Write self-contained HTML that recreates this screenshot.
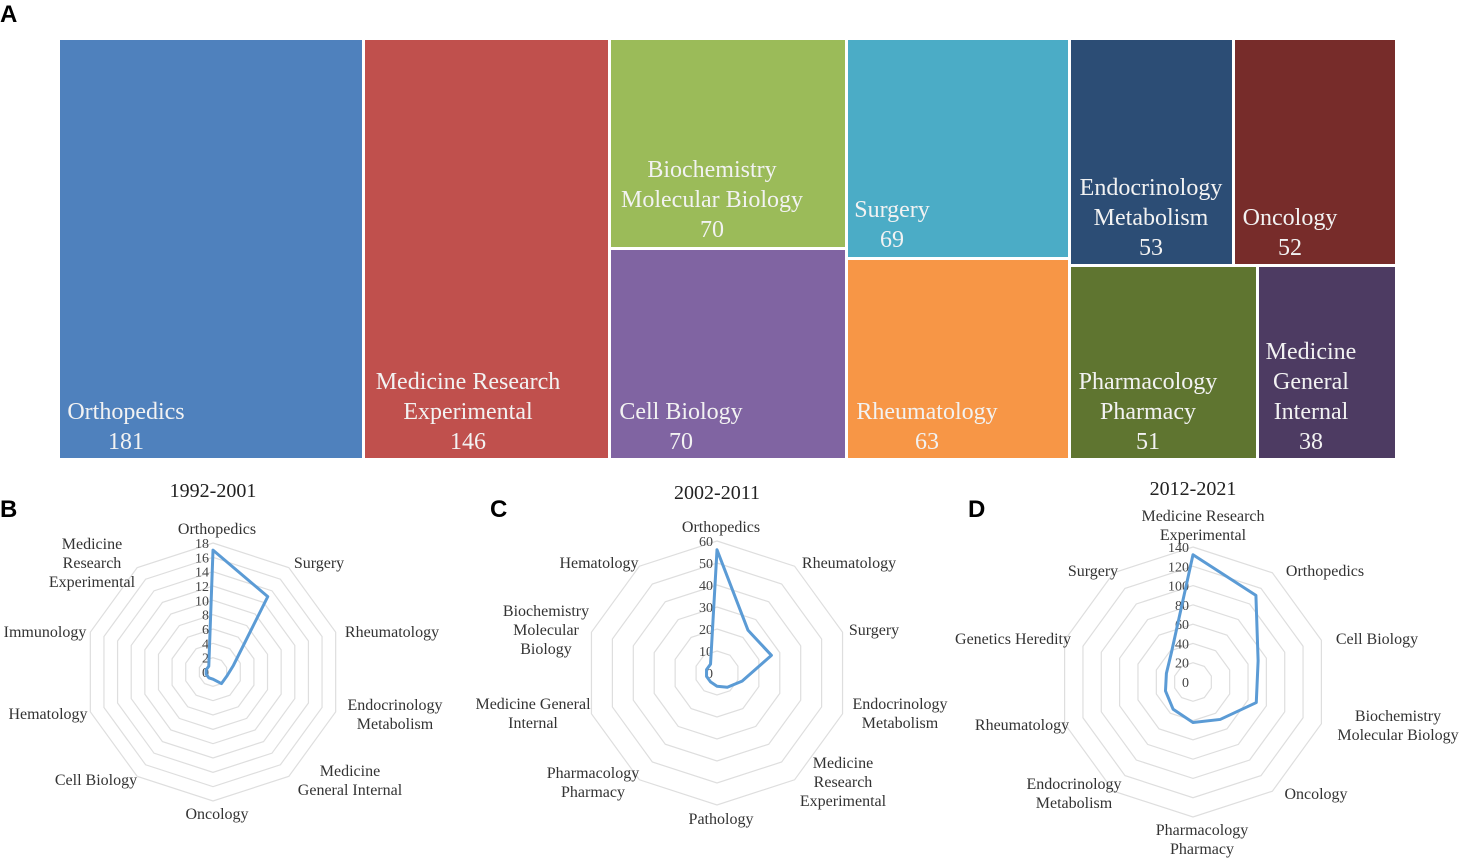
<!DOCTYPE html>
<html><head><meta charset="utf-8"><style>
body{margin:0;background:#fff;width:1477px;height:858px;overflow:hidden;position:relative;font-family:"Liberation Serif",serif}
svg{position:absolute;left:0;top:0}
</style></head><body>
<svg id="s" width="1477" height="858"></svg>
<script>
const NS="http://www.w3.org/2000/svg";
const svg=document.getElementById('s');
function el(tag,attrs,parent){const e=document.createElementNS(NS,tag);for(const k in attrs)e.setAttribute(k,attrs[k]);(parent||svg).appendChild(e);return e;}
function txt(x,y,s,size,fill,anchor,fam,weight,parent){const t=el('text',{x:x,y:y,'font-size':size,fill:fill,'text-anchor':anchor||'middle','font-family':fam||'"Liberation Serif",serif','font-weight':weight||'normal'},parent);t.textContent=s;return t;}

// ---- Treemap data ----
const tmNames=[["Orthopedics"],["Medicine Research","Experimental"],["Biochemistry","Molecular Biology"],["Cell Biology"],["Surgery"],["Rheumatology"],["Endocrinology","Metabolism"],["Oncology"],["Pharmacology","Pharmacy"],["Medicine","General","Internal"]];
const tmValues=[181,146,70,70,69,63,53,52,51,38];
const tmColors=["#4F81BD","#C0504D","#9BBB59","#8064A2","#4BACC6","#F79646","#2C4D75","#772C2A","#5F7530","#4D3B62"];
// layout rects [x,y,w,h] and label anchors [cx, lastLineBaseline]
const tmRects=[[60,40,302,418],[365,40,243,418],[611,40,234,207],[611,250,234,208],[848,40,220,217],[848,260,220,198],[1071,40,161,224],[1235,40,160,224],[1071,267,185,191],[1259,267,136,191]];
const tmLabel=[[126,449],[468,449],[712,237],[681,449],[892,247],[927,449],[1151,255],[1290,255],[1148,449],[1311,449]];
txt(0,22,"A",24,"#000","start",'"Liberation Sans",sans-serif',"bold");
const tmG=el('g',{});


tmValues.forEach((v,i)=>{
  const r=tmRects[i];
  const rc=el('rect',{x:r[0],y:r[1],width:r[2],height:r[3],fill:tmColors[i]},tmG);
  
  
  const lines=tmNames[i].concat([String(v)]);
  const n=lines.length;
  lines.forEach((l,j)=>{
    const t=txt(tmLabel[i][0],tmLabel[i][1]-(n-1-j)*30,l,24,"#f2f2f2","middle",null,null,tmG);
    
    
  });
});

// ---- Radar data ----
const bCats=["Orthopedics","Surgery","Rheumatology","Endocrinology Metabolism","Medicine General Internal","Oncology","Cell Biology","Hematology","Immunology","Medicine Research Experimental"];
const bValues=[17,13,3,2,2,1,1,1,1,1];
const bTicks=[0,2,4,6,8,10,12,14,16,18];
const cCats=["Orthopedics","Rheumatology","Surgery","Endocrinology Metabolism","Medicine Research Experimental","Pathology","Pharmacology Pharmacy","Medicine General Internal","Biochemistry Molecular Biology","Hematology"];
const cValues=[56,24,26,12,8,6,5,5,5,5];
const cTicks=[0,10,20,30,40,50,60];
const dCats=["Medicine Research Experimental","Orthopedics","Cell Biology","Biochemistry Molecular Biology","Oncology","Pharmacology Pharmacy","Endocrinology Metabolism","Rheumatology","Genetics Heredity","Surgery"];
const dValues=[132,111,71,69,48,42,35,30,29,38];
const dTicks=[0,20,40,60,80,100,120,140];

function radar(cfg){
  const g=el('g',{});
  
  
  const n=cfg.values.length, max=cfg.ticks[cfg.ticks.length-1];
  const rs=v=>v/max*cfg.R;
  const pt=(i,v)=>{const a=i*2*Math.PI/n;return [cfg.cx+rs(v)*Math.sin(a),cfg.cy-rs(v)*Math.cos(a)];};
  cfg.ticks.forEach(t=>{ if(t===0)return;
    const p=[];for(let i=0;i<n;i++)p.push(pt(i,t).join(','));
    const ring=el('polygon',{points:p.join(' '),fill:'none',stroke:'#dedede','stroke-width':1.2},g);
    
    
  });
  cfg.ticks.forEach(t=>{const tl=txt(cfg.cx-4,cfg.cy-rs(t)+5,String(t),14,'#444','end',null,null,g);
    
    });
  const pts=cfg.values.map((v,i)=>pt(i,v).join(','));
  const poly=el('polygon',{points:pts.join(' '),fill:'none',stroke:'#5B9BD5','stroke-width':3,'stroke-linejoin':'round'},g);
  
  
  const title=txt(cfg.cx,cfg.ty,cfg.title,20,'#222','middle',null,null,g);
  
  
  const pl=txt(cfg.px,cfg.py,cfg.panel,24,'#000','start','"Liberation Sans",sans-serif','bold',g);
  
  
  cfg.labels.forEach((L,i)=>{
    L.lines.forEach((s,j)=>{const t=txt(L.x,L.y+j*19,s,16,'#333','middle',null,null,g);
      
      });
  });
}
radar({name:'radar-1992-2001',cx:213,cy:672,R:129,values:bValues,ticks:bTicks,title:'1992-2001',ty:497,panel:'B',px:0,py:517,
 labels:[{x:217,y:534,lines:["Orthopedics"]},{x:319,y:568,lines:["Surgery"]},{x:392,y:637,lines:["Rheumatology"]},{x:395,y:710,lines:["Endocrinology","Metabolism"]},{x:350,y:776,lines:["Medicine","General Internal"]},{x:217,y:819,lines:["Oncology"]},{x:96,y:785,lines:["Cell Biology"]},{x:48,y:719,lines:["Hematology"]},{x:45,y:637,lines:["Immunology"]},{x:92,y:549,lines:["Medicine","Research","Experimental"]}]});
radar({name:'radar-2002-2011',cx:717,cy:673,R:132,values:cValues,ticks:cTicks,title:'2002-2011',ty:499,panel:'C',px:490,py:517,
 labels:[{x:721,y:532,lines:["Orthopedics"]},{x:849,y:568,lines:["Rheumatology"]},{x:874,y:635,lines:["Surgery"]},{x:900,y:709,lines:["Endocrinology","Metabolism"]},{x:843,y:768,lines:["Medicine","Research","Experimental"]},{x:721,y:824,lines:["Pathology"]},{x:593,y:778,lines:["Pharmacology","Pharmacy"]},{x:533,y:709,lines:["Medicine General","Internal"]},{x:546,y:616,lines:["Biochemistry","Molecular","Biology"]},{x:599,y:568,lines:["Hematology"]}]});
radar({name:'radar-2012-2021',cx:1193,cy:682,R:135,values:dValues,ticks:dTicks,title:'2012-2021',ty:495,panel:'D',px:968,py:517,
 labels:[{x:1203,y:521,lines:["Medicine Research","Experimental"]},{x:1325,y:576,lines:["Orthopedics"]},{x:1377,y:644,lines:["Cell Biology"]},{x:1398,y:721,lines:["Biochemistry","Molecular Biology"]},{x:1316,y:799,lines:["Oncology"]},{x:1202,y:835,lines:["Pharmacology","Pharmacy"]},{x:1074,y:789,lines:["Endocrinology","Metabolism"]},{x:1022,y:730,lines:["Rheumatology"]},{x:1013,y:644,lines:["Genetics Heredity"]},{x:1093,y:576,lines:["Surgery"]}]});
</script>
</body></html>
